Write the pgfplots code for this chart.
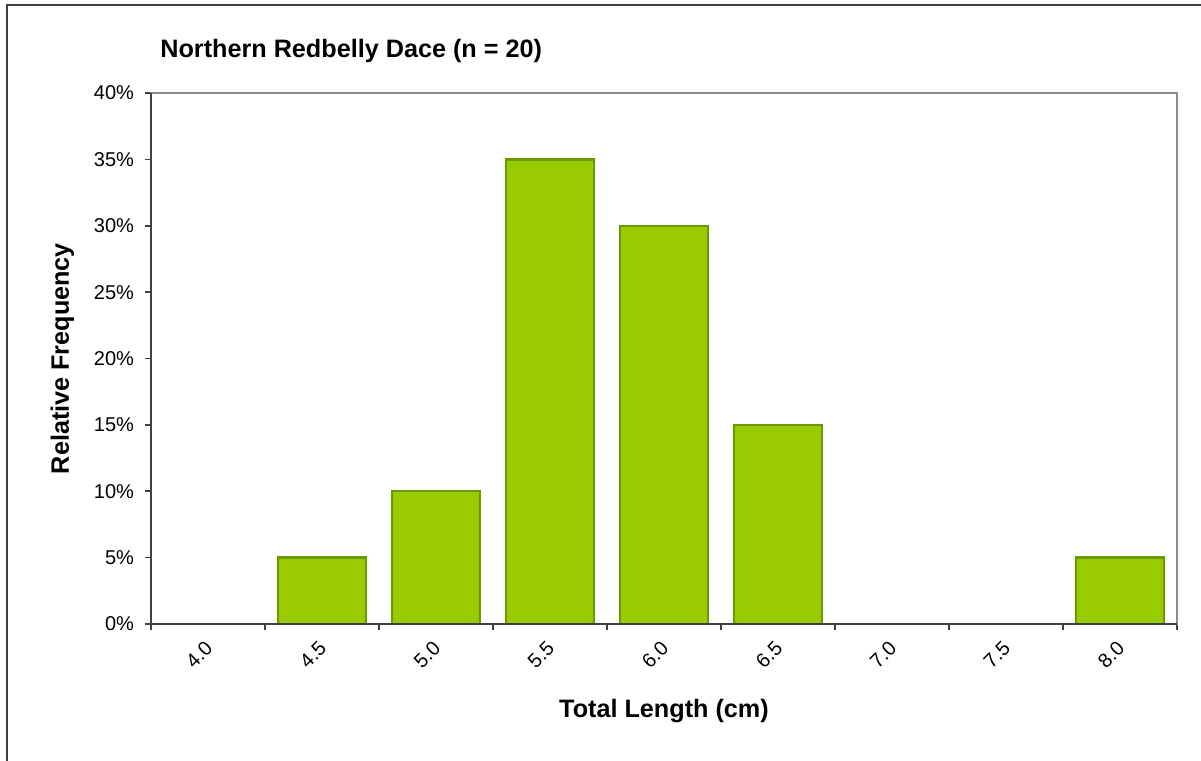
\documentclass[border=0pt]{standalone}
\usepackage{pgfplots}
\pgfplotsset{compat=1.18}
\usepackage{fontspec}
\setmainfont{Liberation Sans}
\definecolor{barfill}{HTML}{99CC00}
\definecolor{barline}{HTML}{6B9A00}
\definecolor{axdark}{HTML}{404040}
\definecolor{axgray}{HTML}{8C8C8C}

\begin{document}
\begin{tikzpicture}[x=0.5pt,y=0.5pt]
% picture frame: 1px = 0.5pt, origin at the lower left corner of the plot area
\useasboundingbox (-151,-137) rectangle (1050,624);
\draw[axdark, line width=0.8pt] (-144,-140) -- (-144,619) -- (1060,619);

\begin{axis}[
    at={(0,0)}, anchor=south west,
    scale only axis,
    width=513pt, height=265.5pt,
    ybar,
    bar width=0.77,
    xmin=-0.5, xmax=8.5,
    ymin=0, ymax=40,
    xtick={0,...,8},
    xticklabels={4.0,4.5,5.0,5.5,6.0,6.5,7.0,7.5,8.0},
    minor xtick={-0.5,0.5,...,8.5},
    ytick={0,5,...,40},
    yticklabel={\pgfmathprintnumber{\tick}\%},
    xtick pos=bottom, ytick pos=left,
    tick align=outside,
    major x tick style={draw=none},
    major tick length=3pt, minor tick length=3pt,
    tick style={axdark, line width=0.8pt},
    axis line style={axgray, line width=1pt},
    ticklabel style={font=\fontsize{10}{12}\selectfont},
    xticklabel style={xshift=2.9pt, yshift=-5pt, rotate=45, anchor=east},
    yticklabel style={xshift=-2pt},
    /pgf/number format/assume math mode=true,
    xlabel={Total Length (cm)},
    ylabel={Relative Frequency},
    label style={font=\bfseries\fontsize{12.6}{15}\selectfont},
    xlabel style={at={(axis description cs:0.5,0)}, anchor=base, yshift=-46.5pt},
    ylabel style={at={(axis description cs:0,0.5)}, anchor=base, yshift=41pt},
    clip=false,
]
\addplot[fill=barfill, draw=barline, line width=1.2pt] coordinates {
    (0,0) (1,5) (2,10) (3,35) (4,30) (5,15) (6,0) (7,0) (8,5)
};
\draw[axdark, line width=1pt] (rel axis cs:0,1) -- (rel axis cs:0,0) -- (rel axis cs:1,0);
\end{axis}

\node[anchor=base west, font=\bfseries\fontsize{12.6}{15}\selectfont, inner sep=0pt] at (9,566) {Northern Redbelly Dace (n = 20)};
\end{tikzpicture}
\end{document}
